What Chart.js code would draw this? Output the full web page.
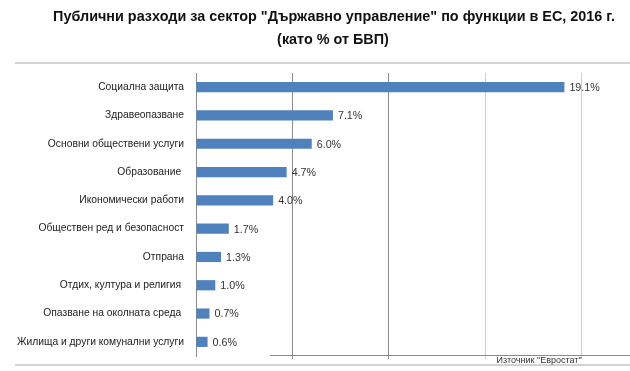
<!DOCTYPE html>
<html lang="bg">
<head>
<meta charset="utf-8">
<title>Публични разходи по функции в ЕС, 2016</title>
<script src="https://cdn.jsdelivr.net/npm/chart.js@4.4.1/dist/chart.umd.min.js"></script>
<style>
  html, body { margin: 0; padding: 0; background: #fff; }
  #wrap { width: 630px; height: 371px; }
</style>
</head>
<body>
<div id="wrap"><canvas id="chart" width="630" height="371"></canvas></div>
<script>
// Данни (от изображението)
const categories = [
  'Социална защита',
  'Здравеопазване',
  'Основни обществени услуги',
  'Образование ',
  'Икономически работи',
  'Обществен ред и безопасност',
  'Отпрана',
  'Отдих, култура и религия ',
  'Опазване на околната среда ',
  'Жилища и други комунални услуги'
];
const values = [19.1, 7.1, 6.0, 4.7, 4.0, 1.7, 1.3, 1.0, 0.7, 0.6];
const titleLines = [
  'Публични разходи за сектор "Държавно управление" по функции в ЕС, 2016 г.',
  '(като % от БВП)'
];
const sourceText = 'Източник "Евростат"';

const FONT = "'Liberation Sans', Arial, sans-serif";

// етикети със стойностите вдясно от лентите
const valueLabels = {
  id: 'valueLabels',
  afterDatasetsDraw(chart) {
    const ctx = chart.ctx;
    const meta = chart.getDatasetMeta(0);
    ctx.save();
    ctx.font = '10.7px ' + FONT;
    ctx.fillStyle = '#333';
    ctx.textAlign = 'left';
    ctx.textBaseline = 'middle';
    meta.data.forEach((bar, i) => {
      ctx.fillText(values[i].toFixed(1) + '%', bar.x + 5, bar.y + 1);
    });
    ctx.restore();
  }
};

// заглавие, рамка, линии и източник
const decorations = {
  id: 'decorations',
  afterDraw(chart) {
    const ctx = chart.ctx;
    const area = chart.chartArea;
    ctx.save();
    ctx.font = 'bold 14.4px ' + FONT;
    ctx.fillStyle = '#111';
    ctx.textAlign = 'center';
    ctx.textBaseline = 'middle';
    ctx.fillText(titleLines[0], 334, 17);
    ctx.fillText(titleLines[1], 333, 40);

    ctx.strokeStyle = '#d2d2d2';
    ctx.lineWidth = 2;
    ctx.beginPath();
    ctx.moveTo(15, 63); ctx.lineTo(630, 63);
    ctx.moveTo(15, 365); ctx.lineTo(630, 365);
    ctx.stroke();

    ctx.strokeStyle = '#8c8c8c';
    ctx.lineWidth = 1;
    ctx.beginPath();
    ctx.moveTo(270, area.bottom - 0.5); ctx.lineTo(630, area.bottom - 0.5);
    ctx.stroke();

    ctx.font = '9px ' + FONT;
    ctx.fillStyle = '#333';
    ctx.fillText(sourceText, 539, 361);
    ctx.restore();
  }
};

new Chart(document.getElementById('chart'), {
  type: 'bar',
  data: {
    labels: categories,
    datasets: [{
      data: values,
      backgroundColor: '#4f81bd',
      borderWidth: 0,
      categoryPercentage: 1,
      barPercentage: 0.36
    }]
  },
  options: {
    indexAxis: 'y',
    responsive: false,
    animation: false,
    layout: { padding: { left: 0, right: 0, top: 73, bottom: 0 } },
    plugins: {
      legend: { display: false },
      tooltip: { enabled: false },
      title: { display: false }
    },
    scales: {
      x: {
        min: 0,
        max: 22.5,
        ticks: { display: false, stepSize: 5 },
        grid: {
          drawTicks: true,
          tickLength: 3,
          lineWidth: 1,
          color: (c) => {
            const v = c.tick ? c.tick.value : null;
            if (v === 5 || v === 10) return '#8c8c8c';
            if (v === 15 || v === 20) return '#cfcfcf';
            return 'rgba(0,0,0,0)';
          }
        },
        border: { display: false },
        afterFit(scale) { scale.height = 15; }
      },
      y: {
        grid: { display: false, drawTicks: false },
        border: { display: true, color: '#8c8c8c', width: 1 },
        ticks: {
          color: '#222',
          padding: 12,
          font: { family: FONT, size: 10.3 }
        },
        afterFit(scale) {
          scale.width = 196;
          scale.paddingTop = 0;
          scale.paddingBottom = 0;
        }
      }
    }
  },
  plugins: [valueLabels, decorations]
});
</script>
</body>
</html>
